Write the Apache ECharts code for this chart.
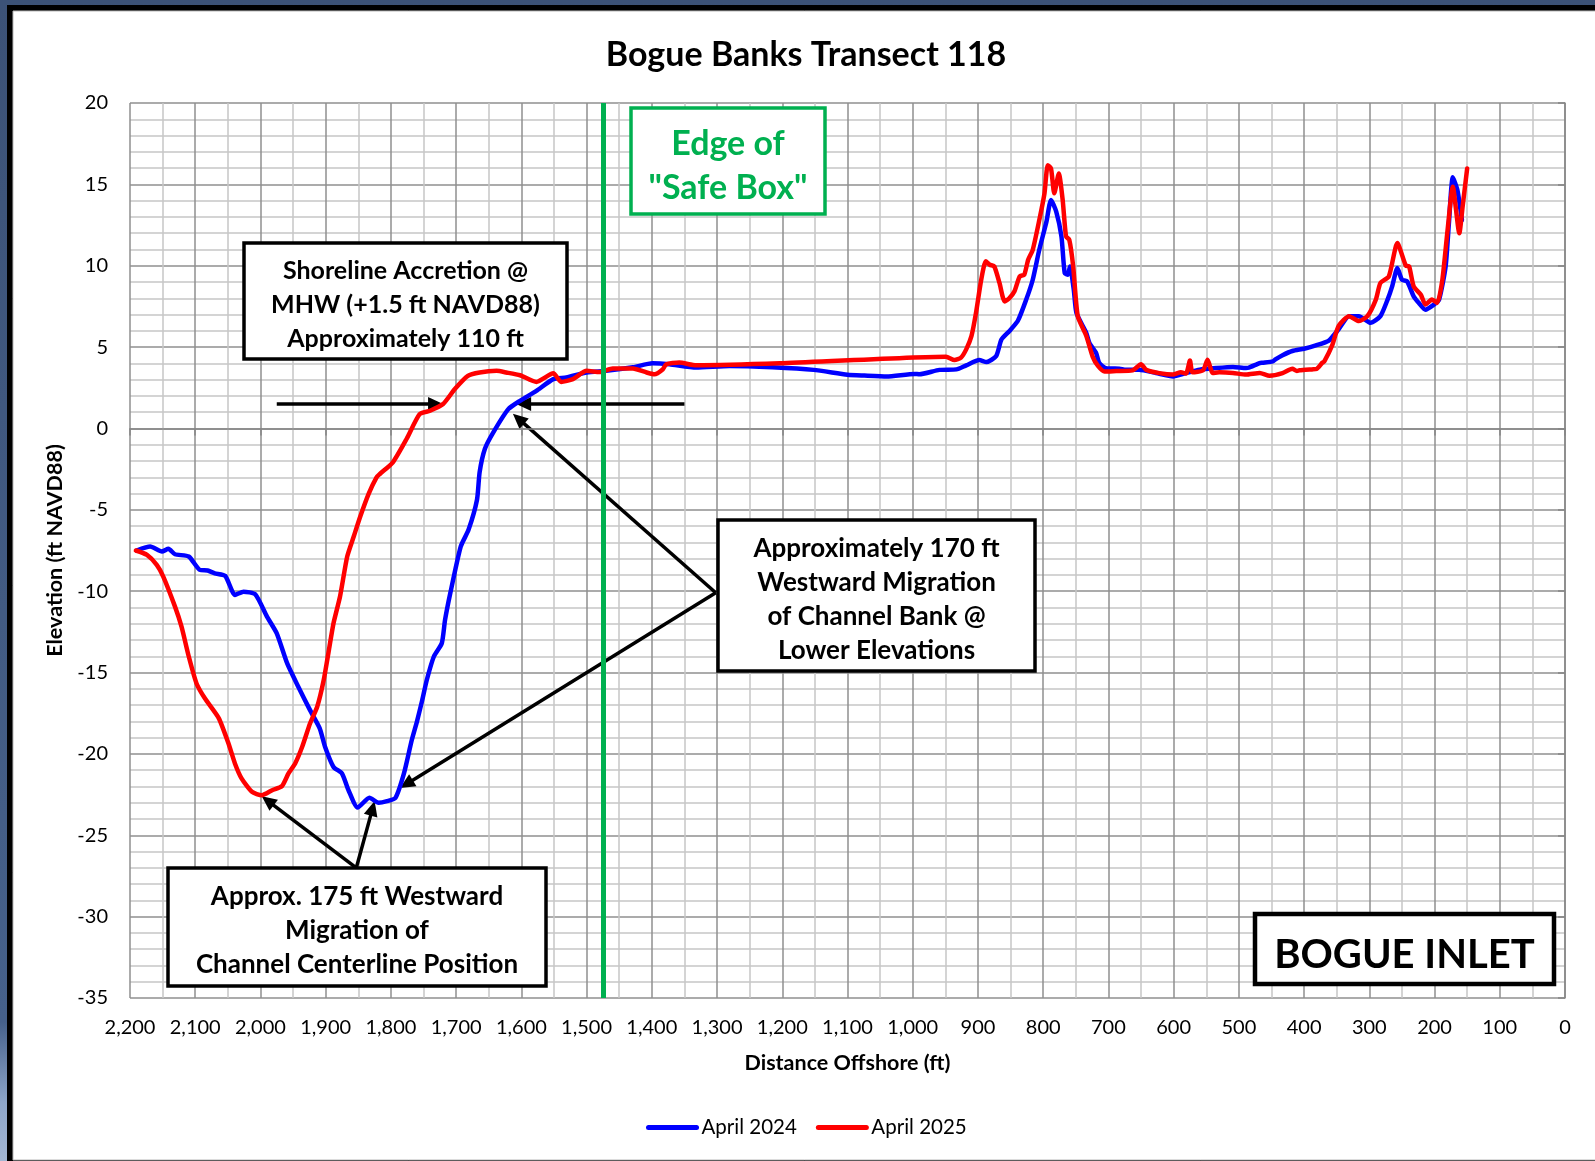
<!DOCTYPE html>
<html>
<head>
<meta charset="utf-8">
<title>Bogue Banks Transect 118</title>
<script src="https://cdn.jsdelivr.net/npm/echarts@6/dist/echarts.min.js"></script>
<style>
  html, body { margin: 0; padding: 0; }
  body { background: linear-gradient(180deg, #3c5277 0%, #46618b 88%, #8ea6c9 95%, #a3b6d3 100%); }
  #chart { width: 1595px; height: 1161px; }
</style>
</head>
<body>
<div id="chart"></div>
<script>
// Beach profile survey, Bogue Banks transect 118 (distance offshore in ft, elevation in ft NAVD88)
const dist2024 = [2190, 2169, 2151, 2141, 2131, 2110, 2093, 2081, 2070, 2054, 2039, 2026, 2008, 1990, 1975, 1959, 1942, 1924, 1909, 1901, 1888, 1875, 1865, 1851, 1833, 1819, 1806, 1793, 1780, 1768, 1760, 1752, 1745, 1734, 1722, 1717, 1709, 1693, 1681, 1668, 1664, 1656, 1643, 1620, 1602, 1577, 1551, 1531, 1500, 1470, 1429, 1399, 1373, 1332, 1281, 1215, 1152, 1100, 1074, 1040, 997, 990, 959, 933, 918, 898, 887, 872, 864, 852, 839, 826, 816, 806, 795, 788, 780, 772, 767, 762, 759, 753, 749, 734, 729, 719, 714, 704, 683, 673, 653, 627, 601, 581, 560, 535, 509, 489, 485, 468, 464, 448, 444, 433, 418, 400, 382, 362, 347, 331, 316, 298, 283, 272, 265, 257, 250, 242, 232, 224, 214, 201, 193, 183, 178, 172, 165, 158];
const elev2024 = [-7.5, -7.26, -7.56, -7.4, -7.73, -7.87, -8.69, -8.73, -8.9, -9.06, -10.23, -10.03, -10.19, -11.56, -12.59, -14.44, -15.87, -17.31, -18.44, -19.56, -20.8, -21.2, -22.23, -23.3, -22.7, -23.0, -22.9, -22.7, -21.2, -19.15, -18.0, -16.7, -15.46, -14.0, -13.2, -11.77, -10.13, -7.26, -6.23, -4.38, -2.69, -1.26, -0.24, 1.19, 1.7, 2.31, 3.03, 3.13, 3.44, 3.54, 3.76, 4.0, 3.94, 3.74, 3.84, 3.76, 3.6, 3.3, 3.25, 3.2, 3.35, 3.33, 3.6, 3.63, 3.88, 4.2, 4.08, 4.45, 5.47, 5.98, 6.6, 7.92, 9.14, 10.98, 12.71, 14.04, 13.33, 11.8, 9.55, 9.45, 9.96, 8.5, 7.1, 5.88, 5.24, 4.65, 4.02, 3.71, 3.67, 3.61, 3.61, 3.41, 3.2, 3.41, 3.61, 3.71, 3.78, 3.71, 3.73, 4.02, 4.04, 4.12, 4.24, 4.5, 4.76, 4.9, 5.1, 5.4, 6.1, 6.9, 6.9, 6.49, 6.9, 7.92, 8.73, 9.86, 9.14, 9.04, 8.12, 7.71, 7.3, 7.61, 7.92, 9.96, 12.6, 15.43, 14.65, 12.8];

const dist2025 = [2191, 2174, 2159, 2149, 2131, 2121, 2110, 2098, 2085, 2064, 2049, 2039, 2029, 2013, 1998, 1982, 1967, 1957, 1947, 1936, 1924, 1913, 1903, 1895, 1888, 1878, 1867, 1857, 1847, 1834, 1822, 1817, 1797, 1776, 1756, 1740, 1720, 1702, 1682, 1664, 1638, 1623, 1602, 1577, 1551, 1539, 1521, 1500, 1480, 1460, 1429, 1408, 1396, 1383, 1378, 1358, 1332, 1204, 949, 936, 926, 918, 910, 903, 895, 888, 882, 875, 867, 859, 852, 844, 836, 829, 823, 816, 806, 798, 793, 788, 783, 776, 770, 765, 760, 754, 747, 734, 724, 716, 706, 688, 663, 650, 642, 622, 601, 589, 581, 575, 571, 555, 548, 540, 530, 509, 489, 468, 453, 433, 418, 411, 407, 388, 381, 372, 369, 357, 347, 331, 316, 303, 290, 283, 270, 257, 244, 239, 232, 221, 214, 204, 196, 188, 180, 172, 162, 157, 150];
const elev2025 = [-7.5, -7.77, -8.38, -9.1, -10.95, -12.18, -14.0, -15.67, -16.6, -17.8, -19.36, -20.6, -21.5, -22.33, -22.54, -22.23, -21.98, -21.2, -20.6, -19.56, -18.13, -17.1, -15.46, -13.6, -11.97, -10.33, -7.87, -6.64, -5.41, -4.0, -3.0, -2.8, -2.08, -0.65, 0.88, 1.09, 1.5, 2.42, 3.23, 3.44, 3.54, 3.44, 3.27, 2.86, 3.39, 2.86, 3.03, 3.54, 3.47, 3.68, 3.68, 3.44, 3.33, 3.64, 3.94, 4.05, 3.88, 4.0, 4.41, 4.2, 4.35, 4.86, 5.67, 7.1, 9.14, 10.27, 10.06, 9.96, 8.94, 7.8, 8.0, 8.43, 9.35, 9.45, 10.37, 10.98, 12.8, 14.45, 16.18, 15.98, 14.45, 15.67, 14.0, 11.8, 11.6, 9.96, 6.9, 5.7, 4.4, 3.84, 3.5, 3.53, 3.57, 3.94, 3.6, 3.4, 3.31, 3.45, 3.37, 4.18, 3.45, 3.57, 4.22, 3.41, 3.45, 3.41, 3.31, 3.41, 3.24, 3.4, 3.67, 3.53, 3.57, 3.63, 3.65, 4.04, 4.12, 5.1, 6.3, 6.9, 6.6, 6.9, 7.92, 8.94, 9.35, 11.39, 10.0, 9.96, 8.73, 8.22, 7.61, 7.92, 7.71, 9.14, 12.2, 14.86, 12.0, 13.63, 15.98];

const seriesNames = ['April 2024', 'April 2025'];
const safeBoxEdge = 1475;          // ft offshore
const xTicks = { min: 0, max: 2200, step: 100 };
const yTicks = { min: -35, max: 20, step: 5 };

const FONT = 'Lato';
const pairs = (d, e) => d.map((x, i) => [x, e[i]]);

const chart = echarts.init(document.getElementById('chart'), null, { renderer: 'canvas' });

const axisGray = '#868686';
const option = {
  backgroundColor: 'transparent',
  animation: false,
  grid: { left: 130, right: 30, top: 103, bottom: 163, containLabel: false, show: false },
  xAxis: {
    type: 'value', inverse: true,
    min: xTicks.min, max: xTicks.max, interval: xTicks.step,
    name: 'Distance Offshore (ft)', nameLocation: 'middle', nameGap: 54,
    nameTextStyle: { fontFamily: FONT, fontWeight: 'bold', fontSize: 21.5, color: '#000' },
    axisLine: { show: true, lineStyle: { color: axisGray, width: 1.5 } },
    axisTick: { show: true, inside: false, length: 7, lineStyle: { color: axisGray, width: 1.5 } },
    minorTick: { show: false, splitNumber: 2 },
    axisLabel: {
      fontFamily: FONT, fontSize: 20, color: '#000', margin: 20,
      formatter: v => v.toLocaleString('en-US')
    },
    splitLine: { show: true, lineStyle: { color: '#8f8f8f', width: 1.5 } },
    minorSplitLine: { show: true, lineStyle: { color: '#c6c6c6', width: 1.5 } }
  },
  yAxis: {
    type: 'value',
    min: yTicks.min, max: yTicks.max, interval: yTicks.step,
    name: 'Elevation (ft NAVD88)', nameLocation: 'middle', nameGap: 59,
    nameTextStyle: { fontFamily: FONT, fontWeight: 'bold', fontSize: 21.5, color: '#000' },
    axisLine: { show: true, lineStyle: { color: axisGray, width: 1.5 } },
    axisTick: { show: true, inside: false, length: 7, lineStyle: { color: axisGray, width: 1.5 } },
    minorTick: { show: false, splitNumber: 5 },
    axisLabel: { fontFamily: FONT, fontSize: 20, color: '#000', margin: 22 },
    splitLine: { show: true, lineStyle: { color: '#8f8f8f', width: 1.5 } },
    minorSplitLine: { show: true, lineStyle: { color: '#c6c6c6', width: 1.5 } }
  },
  legend: {
    show: true, left: 641, top: 1112, orient: 'horizontal',
    itemWidth: 48, itemHeight: 24, itemGap: 19,
    itemStyle: { opacity: 0 },
    lineStyle: { width: 5, cap: 'round' },
    textStyle: { fontFamily: FONT, fontSize: 20.5, color: '#000' },
    data: seriesNames
  },
  series: [
    {
      name: 'safe box edge', type: 'line', data: [], z: 1,
      markLine: {
        silent: true, symbol: ['none', 'none'], animation: false,
        label: { show: false },
        lineStyle: { color: '#00b050', width: 5, type: 'solid' },
        emphasis: { disabled: true },
        data: [{ xAxis: safeBoxEdge }]
      }
    },
    {
      name: seriesNames[0], type: 'line', data: pairs(dist2024, elev2024),
      showSymbol: false, symbol: 'none', smooth: 0.2, z: 3,
      lineStyle: { color: '#0000ff', width: 4.5, cap: 'round', join: 'round' },
      itemStyle: { color: '#0000ff' }
    },
    {
      name: seriesNames[1], type: 'line', data: pairs(dist2025, elev2025),
      showSymbol: false, symbol: 'none', smooth: 0.2, z: 4,
      lineStyle: { color: '#ff0000', width: 4.5, cap: 'round', join: 'round' },
      itemStyle: { color: '#ff0000' }
    }
  ]
};
chart.setOption(option);

// ---- frame, title, annotation boxes and arrows ----
const px = (x, y) => chart.convertToPixel({ gridIndex: 0 }, [x, y]);

function textBox(x, y, w, h, lines, opts) {
  const o = Object.assign({ stroke: '#000', color: '#000', size: 26, lineH: 34, border: 3.5 }, opts || {});
  const children = [{
    type: 'rect', shape: { x, y, width: w, height: h },
    style: { fill: '#fff', stroke: o.stroke, lineWidth: o.border }
  }];
  const cx = x + w / 2;
  // Lato sits high in its em box; nudge down so the glyphs look centred
  const cy = y + h / 2 + o.size * 0.14;
  const top = cy - (lines.length - 1) * o.lineH / 2;
  lines.forEach((t, i) => children.push({
    type: 'text', x: cx, y: top + i * o.lineH,
    style: { text: t, fill: o.color, font: `bold ${o.size}px ${FONT}`, align: 'center', verticalAlign: 'middle' }
  }));
  return { type: 'group', z: 200, children };
}

function arrow(from, to) {
  const a = px(from[0], from[1]);
  const b = px(to[0], to[1]);
  const dx = b[0] - a[0], dy = b[1] - a[1];
  const len = Math.hypot(dx, dy);
  const ux = dx / len, uy = dy / len;
  const headL = 15, headW = 7;
  const bx = b[0] - ux * headL, by = b[1] - uy * headL;
  return {
    type: 'group', z: 190,
    children: [
      { type: 'line', shape: { x1: a[0], y1: a[1], x2: bx + ux * 2, y2: by + uy * 2 }, style: { stroke: '#000', lineWidth: 3.5 } },
      { type: 'polygon', shape: { points: [[b[0], b[1]], [bx - uy * headW, by + ux * headW], [bx + uy * headW, by - ux * headW]] }, style: { fill: '#000' } }
    ]
  };
}

const graphics = [
  // page frame
  { type: 'rect', z: -10, silent: true, shape: { x: 7, y: 5, width: 1600, height: 1170 }, style: { fill: '#000' } },
  { type: 'rect', z: -9, silent: true, shape: { x: 13, y: 11, width: 1590, height: 1149 }, style: { fill: '#fff', stroke: '#b8b8b8', lineWidth: 1 } },
  // title
  { type: 'text', z: 200, x: 806, y: 55, style: { text: 'Bogue Banks Transect 118', font: `bold 34px ${FONT}`, fill: '#000', align: 'center', verticalAlign: 'middle' } },
  textBox(631, 108, 194, 106, ['Edge of', '"Safe Box"'], { stroke: '#00b050', color: '#00b050', size: 34, lineH: 44 }),
  textBox(244, 243, 323, 116, ['Shoreline Accretion @', 'MHW (+1.5 ft NAVD88)', 'Approximately 110 ft'], { size: 25 }),
  textBox(718, 520, 317, 151, ['Approximately 170 ft', 'Westward Migration', 'of Channel Bank @', 'Lower Elevations']),
  textBox(168, 868, 378, 118, ['Approx. 175 ft Westward', 'Migration of', 'Channel Centerline Position']),
  textBox(1255, 914, 299, 70, ['BOGUE INLET'], { size: 40, border: 4.5 }),
  // shoreline position at MHW
  arrow([1975, 1.5], [1720, 1.5]),
  arrow([1350, 1.5], [1608, 1.5]),
  // channel bank
  arrow([1302, -10.1], [1613, 0.9]),
  arrow([1302, -10.1], [1786, -22.1]),
  // channel centerline
  arrow([1853, -27], [1998, -22.6]),
  arrow([1853, -27], [1825, -22.9])
];
chart.setOption({ graphic: graphics });
</script>
</body>
</html>
